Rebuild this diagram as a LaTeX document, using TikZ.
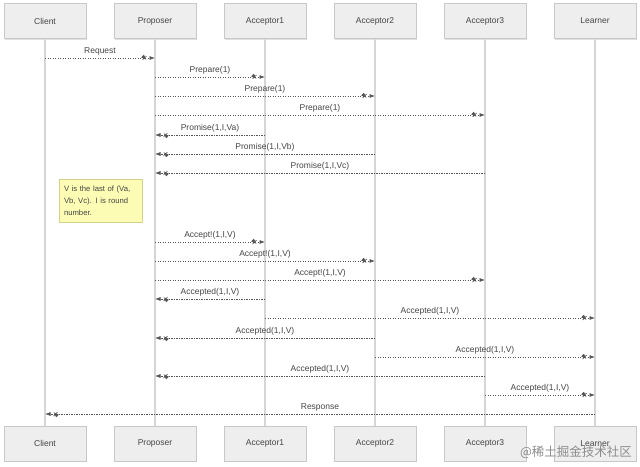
\documentclass[tikz,border=0pt]{standalone}
\usepackage{fontspec}
\setmainfont{Liberation Sans}
\newfontfamily\cjk{Noto Sans CJK SC}
\usetikzlibrary{arrows.meta,decorations.markings,shadows}
\definecolor{boxfill}{HTML}{EEEEEE}
\definecolor{boxline}{HTML}{C8C8C8}
\definecolor{lifeline}{HTML}{D6D6D6}
\definecolor{msgcol}{HTML}{555555}
\definecolor{txtcol}{HTML}{444444}
\definecolor{notefill}{HTML}{FCFCB4}
\definecolor{noteline}{HTML}{D2D28C}
\tikzset{
  actor/.style={draw=boxline, fill=boxfill, line width=0.8pt, minimum width=82pt, minimum height=35pt,
    text=txtcol, font=\fontsize{8.5}{10}\selectfont,
    drop shadow={shadow xshift=1.2pt, shadow yshift=-1.2pt, fill=black!12, opacity=1}},
  life/.style={draw=lifeline, line width=1.1pt},
  msg/.style={draw=msgcol, line width=0.6pt, dash pattern=on 1.4pt off 1.1pt,
    -{Latex[length=5.5pt,width=4pt]},
    postaction={decorate},
    decoration={markings, mark=at position -10.5pt with {\draw[solid, line width=0.7pt, msgcol] (-2pt,-2pt)--(2pt,2pt) (-2pt,2pt)--(2pt,-2pt);}}},
  lbl/.style={text=txtcol, font=\fontsize{8.5}{10}\selectfont, inner sep=1pt, above=1pt},
  notebox/.style={draw=noteline, fill=notefill, line width=0.6pt, minimum width=83pt, minimum height=43pt,
    text=txtcol, font=\fontsize{7.7}{12}\selectfont, align=left, text width=73pt, inner sep=5pt}
}
\begin{document}
\begin{tikzpicture}[x=1pt,y=-1pt]
\useasboundingbox (0,0) rectangle (640,466);
% top actors
\node[actor] (c)  at (45,21)  {Client};
\node[actor] (p)  at (155,21) {Proposer};
\node[actor] (a1) at (265,21) {Acceptor1};
\node[actor] (a2) at (375,21) {Acceptor2};
\node[actor] (a3) at (485,21) {Acceptor3};
\node[actor] (l)  at (595,21) {Learner};
% bottom actors
\node[actor] (cb)  at (45,443.5)  {Client};
\node[actor] (pb)  at (155,443.5) {Proposer};
\node[actor] (a1b) at (265,443.5) {Acceptor1};
\node[actor] (a2b) at (375,443.5) {Acceptor2};
\node[actor] (a3b) at (485,443.5) {Acceptor3};
\node[actor] (lb)  at (595,443.5) {Learner};
% lifelines
\draw[life] (c) -- (cb);
\draw[life] (p) -- (pb);
\draw[life] (a1) -- (a1b);
\draw[life] (a2) -- (a2b);
\draw[life] (a3) -- (a3b);
\draw[life] (l) -- (lb);
% messages
\draw[msg] (c |- 0,58) -- node[lbl]{Request} (p |- 0,58);
\draw[msg] (p |- 0,77) -- node[lbl]{Prepare(1)} (a1 |- 0,77);
\draw[msg] (p |- 0,96) -- node[lbl]{Prepare(1)} (a2 |- 0,96);
\draw[msg] (p |- 0,115) -- node[lbl]{Prepare(1)} (a3 |- 0,115);
\draw[msg] (a1 |- 0,135) -- node[lbl]{Promise(1,I,Va)} (p |- 0,135);
\draw[msg] (a2 |- 0,154) -- node[lbl]{Promise(1,I,Vb)} (p |- 0,154);
\draw[msg] (a3 |- 0,173) -- node[lbl]{Promise(1,I,Vc)} (p |- 0,173);
% note
\node[notebox] (note) at (100.5,200.5) {V is the last of (Va, Vb, Vc). I is round number.};
\draw[msg] (p |- 0,242) -- node[lbl]{Accept!(1,I,V)} (a1 |- 0,242);
\draw[msg] (p |- 0,261) -- node[lbl]{Accept!(1,I,V)} (a2 |- 0,261);
\draw[msg] (p |- 0,280) -- node[lbl]{Accept!(1,I,V)} (a3 |- 0,280);
\draw[msg] (a1 |- 0,299) -- node[lbl]{Accepted(1,I,V)} (p |- 0,299);
\draw[msg] (a1 |- 0,318) -- node[lbl]{Accepted(1,I,V)} (l |- 0,318);
\draw[msg] (a2 |- 0,338) -- node[lbl]{Accepted(1,I,V)} (p |- 0,338);
\draw[msg] (a2 |- 0,357) -- node[lbl]{Accepted(1,I,V)} (l |- 0,357);
\draw[msg] (a3 |- 0,376) -- node[lbl]{Accepted(1,I,V)} (p |- 0,376);
\draw[msg] (a3 |- 0,395) -- node[lbl]{Accepted(1,I,V)} (l |- 0,395);
\draw[msg] (l |- 0,414) -- node[lbl]{Response} (c |- 0,414);
% watermark
\node[text=black!45, font=\cjk\fontsize{12.5}{14}\selectfont, inner sep=0pt] (wm) at (576,452) {@稀土掘金技术社区};
\end{tikzpicture}
\end{document}
